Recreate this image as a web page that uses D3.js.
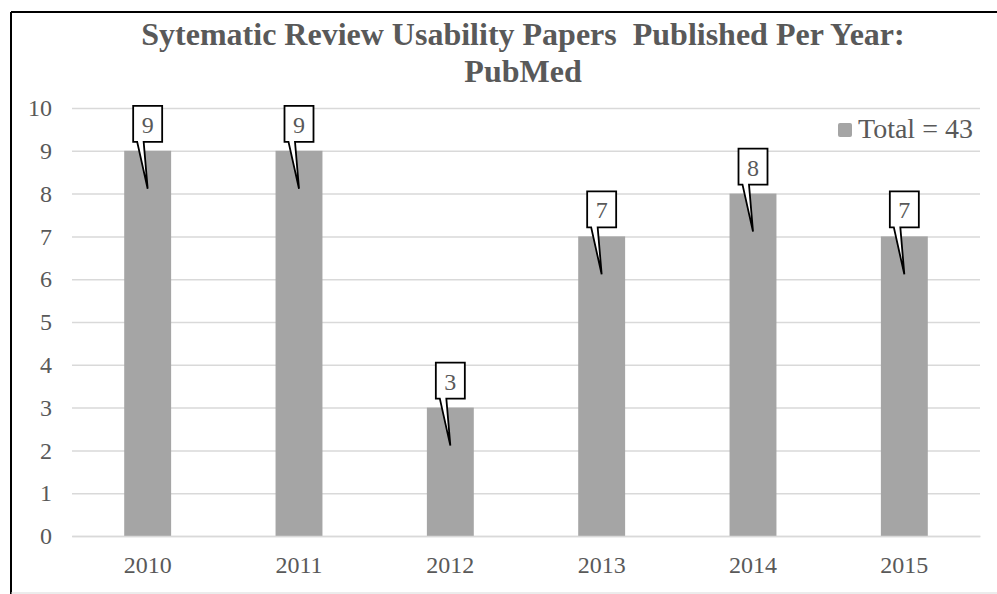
<!DOCTYPE html>
<html>
<head>
  <meta charset="utf-8">
  <script src="https://d3js.org/d3.v7.min.js"></script>
  <style>
    body { margin:0; background:#fff; }
    text { font-family: "Liberation Serif", "Times New Roman", serif; }
  </style>
</head>
<body>
  <script>
    // donnees
    var years = ["2010", "2011", "2012", "2013", "2014", "2015"];
    var papers = [9, 9, 3, 7, 8, 7];
    var yTicks = [0, 1, 2, 3, 4, 5, 6, 7, 8, 9, 10];
    var titleLines = ["Sytematic Review Usability Papers  Published Per Year:", "PubMed"];
    var legendLabel = "Total = 43";

    var W = 997, H = 594;
    var margin = {top: 108, right: 17, bottom: 58, left: 72};
    var width = W - margin.left - margin.right;
    var height = H - margin.top - margin.bottom;

    var svg = d3.select("body").append("svg")
      .attr("width", W)
      .attr("height", H);

    // cadre
    svg.append("line").attr("x1", 11).attr("x2", W).attr("y1", 12).attr("y2", 12)
      .attr("stroke", "#000").attr("stroke-width", 2);
    svg.append("line").attr("x1", 11).attr("x2", 11).attr("y1", 12).attr("y2", H)
      .attr("stroke", "#000").attr("stroke-width", 2);
    svg.append("line").attr("x1", 11).attr("x2", W).attr("y1", 593).attr("y2", 593)
      .attr("stroke", "#d9d9d9").attr("stroke-width", 1);

    var g = svg.append("g").attr("transform", "translate(" + margin.left + "," + margin.top + ")");

    var x = d3.scaleBand().domain(years).range([0, width]).paddingInner(0.69).paddingOuter(0.345);
    var y = d3.scaleLinear().domain([0, 10]).range([height, 0]);

    // grille
    var grid = g.append("g")
      .call(d3.axisLeft(y).tickValues(yTicks).tickSize(-width).tickFormat(""));
    grid.select(".domain").remove();
    grid.selectAll("line").attr("stroke", "#d9d9d9").attr("stroke-width", 1.5);

    // etiquettes axe Y
    var yAxis = g.append("g")
      .call(d3.axisLeft(y).tickValues(yTicks).tickSize(0).tickPadding(20));
    yAxis.select(".domain").remove();
    yAxis.selectAll("text")
      .attr("font-family", "Liberation Serif")
      .attr("font-size", "24px")
      .attr("fill", "#595959");

    // barres
    g.selectAll("rect.bar")
      .data(papers)
      .enter()
      .append("rect")
      .attr("class", "bar")
      .attr("x", function(d, i) { return x(years[i]); })
      .attr("y", function(d) { return y(d); })
      .attr("width", x.bandwidth())
      .attr("height", function(d) { return height - y(d); })
      .attr("fill", "#a5a5a5");

    // axe X
    var xAxis = g.append("g")
      .attr("transform", "translate(0," + height + ")")
      .call(d3.axisBottom(x).tickSize(0).tickPadding(20));
    xAxis.select(".domain").attr("stroke", "#d9d9d9").attr("stroke-width", 1.5);
    xAxis.selectAll("text")
      .attr("font-family", "Liberation Serif")
      .attr("font-size", "24px")
      .attr("fill", "#595959");

    // bulles des valeurs
    var callout = g.selectAll("g.callout")
      .data(papers)
      .enter()
      .append("g")
      .attr("class", "callout")
      .attr("transform", function(d, i) {
        return "translate(" + (x(years[i]) + x.bandwidth() / 2) + "," + y(d) + ")";
      });

    callout.append("path")
      .attr("d", "M-14.5,-45 H14.5 V-9 H-4 L0,38 L-10.5,-9 H-14.5 Z")
      .attr("fill", "#fff")
      .attr("stroke", "#000")
      .attr("stroke-width", 1.8)
      .attr("stroke-linejoin", "miter");

    callout.append("text")
      .text(function(d) { return d; })
      .attr("x", 0)
      .attr("y", -18)
      .attr("text-anchor", "middle")
      .attr("font-size", "24px")
      .attr("fill", "#595959");

    // titre
    svg.selectAll("text.title")
      .data(titleLines)
      .enter()
      .append("text")
      .attr("class", "title")
      .text(function(d) { return d; })
      .attr("x", 523)
      .attr("y", function(d, i) { return 45 + i * 37; })
      .attr("text-anchor", "middle")
      .attr("font-size", "32px")
      .attr("font-weight", "bold")
      .attr("fill", "#595959")
      .style("white-space", "pre");

    // legende
    svg.append("rect")
      .attr("x", 838).attr("y", 123).attr("width", 14).attr("height", 14)
      .attr("rx", 2)
      .attr("fill", "#a5a5a5");
    svg.append("text")
      .text(legendLabel)
      .attr("x", 858).attr("y", 138)
      .attr("font-size", "28px")
      .attr("fill", "#595959");
  </script>
</body>
</html>
